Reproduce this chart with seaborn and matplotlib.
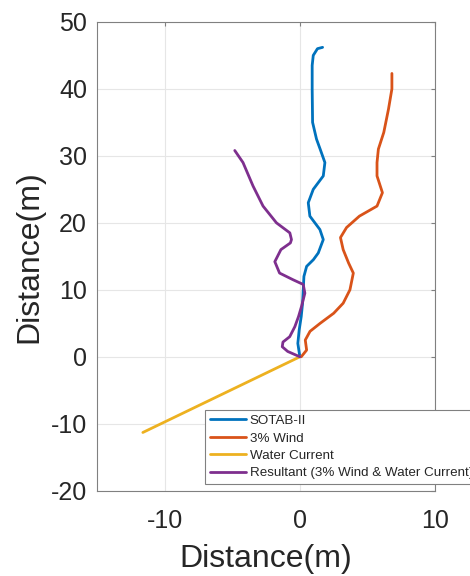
import pandas as pd
import seaborn as sns
import matplotlib.pyplot as plt

# trajectories (m)
sotab_x = [0, -0.15, -0.05, 0.1, 0.2, 0.25, 0.3, 0.5, 1.0, 1.36, 1.73, 1.48, 0.74, 0.62,
           0.99, 1.73, 1.85, 1.5, 1.23, 0.94, 0.91, 0.91, 0.99, 1.3, 1.68]
sotab_y = [0, 2, 4, 6, 8, 10, 12, 13.5, 14.5, 15.5, 17.5, 19, 21, 23,
           25, 27, 29, 31, 32.5, 35, 40, 43.5, 45, 46, 46.2]

wind_x = [0.1, 0.5, 0.4, 0.75, 1.5, 2.5, 3.2, 3.7, 3.95, 3.6, 3.2, 3.0, 3.45, 4.4,
          5.7, 6.1, 5.7, 5.7, 5.8, 6.2, 6.55, 6.8, 6.8]
wind_y = [0, 1, 2.5, 3.8, 5, 6.5, 8, 10, 12.5, 14, 16, 17.8, 19.3, 21,
          22.5, 24.5, 27, 29, 31, 33.5, 37, 40, 42.3]

current_x = [0, -11.6]
current_y = [0, -11.3]

result_x = [0, -0.9, -1.3, -1.25, -0.75, -0.37, -0.1, 0.12, 0.37, 0.25, -0.5, -1.5,
            -1.85, -1.4, -0.7, -0.62, -0.74, -1.73, -2.72, -3.46, -4.2, -4.81]
result_y = [0, 0.8, 1.5, 2.2, 3.0, 4.5, 6, 7.5, 9.5, 10.8, 11.5, 12.5,
            14.2, 16, 17, 17.5, 18.5, 20, 22.5, 25.5, 29, 30.8]

names = ['SOTAB-II', '3% Wind', 'Water Current', 'Resultant (3% Wind & Water Current)']
colors = ['#0072BD', '#D95319', '#EDB120', '#7E2F8E']

frames = []
for name, xs, ys in zip(names, [sotab_x, wind_x, current_x, result_x],
                        [sotab_y, wind_y, current_y, result_y]):
    frames.append(pd.DataFrame({'x': xs, 'y': ys, 'series': name}))
df = pd.concat(frames, ignore_index=True)

sns.set_style('white')
plt.rcParams['font.family'] = ['Liberation Sans', 'DejaVu Sans']
plt.rcParams['axes.unicode_minus'] = False

fig = plt.figure(figsize=(4.7, 5.76), dpi=100)
ax = fig.add_axes([0.206, 0.148, 0.72, 0.814])

sns.lineplot(data=df, x='x', y='y', hue='series', hue_order=names,
             palette=colors, sort=False, estimator=None, units='series',
             linewidth=2, ax=ax)

ax.set_xlim(-15, 10)
ax.set_ylim(-20, 50)
ax.set_xticks([-10, 0, 10])
ax.set_yticks(range(-20, 51, 10))
ax.grid(True, color='#e6e6e6', linewidth=0.8)
ax.tick_params(direction='in', top=True, right=True, length=3,
               color='#808080', labelsize=18, labelcolor='#262626')
ax.tick_params(axis='x', pad=13)
ax.tick_params(axis='y', pad=7)
for sp in ax.spines.values():
    sp.set_color('#808080')
    sp.set_linewidth(0.8)

ax.set_xlabel('Distance(m)', fontsize=23, color='#262626', labelpad=8)
ax.set_ylabel('Distance(m)', fontsize=23, color='#262626', labelpad=5)

leg = ax.legend(loc='upper left', bbox_to_anchor=(0.32, 0.172), fontsize=9.6,
                frameon=True, fancybox=False, framealpha=1, edgecolor='#808080',
                handlelength=2.7, handletextpad=0.3, borderpad=0.35,
                labelspacing=0.38, borderaxespad=0)
leg.get_frame().set_linewidth(0.8)

fig.savefig('out.png', dpi=100)
